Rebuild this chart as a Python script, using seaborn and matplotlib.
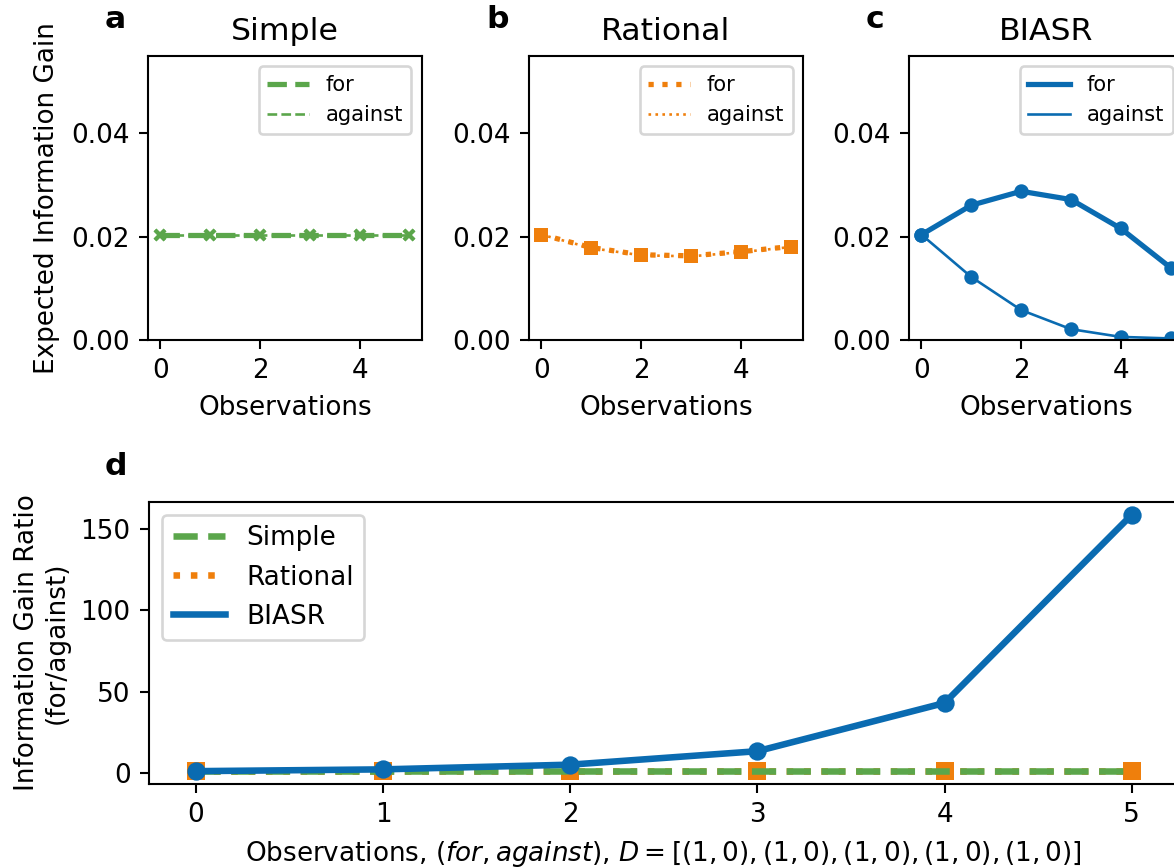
import numpy as np
import pandas as pd
import matplotlib
matplotlib.use("Agg")
import matplotlib.pyplot as plt
from matplotlib.lines import Line2D
import seaborn as sns

# ---- data ----
obs = [0, 1, 2, 3, 4, 5]
simple_for = [0.0204, 0.0204, 0.0204, 0.0204, 0.0204, 0.0204]
simple_against = [0.0204, 0.0204, 0.0204, 0.0204, 0.0204, 0.0204]
rational_for = [0.0204, 0.0179, 0.0165, 0.0163, 0.0171, 0.0181]
rational_against = [0.0204, 0.0178, 0.0164, 0.0162, 0.0170, 0.0180]
biasr_for = [0.0204, 0.0261, 0.0288, 0.0272, 0.0216, 0.0140]
biasr_against = [0.0204, 0.0122, 0.0058, 0.0021, 0.0006, 0.0003]
ratio_simple = [1.0, 1.0, 1.0, 1.0, 1.0, 1.0]
ratio_rational = [1.0, 1.0, 1.0, 1.0, 1.0, 1.0]
ratio_biasr = [1.0, 2.1, 5.0, 13.3, 43.0, 159.0]

models = ["Simple", "Rational", "BIASR"]
colors = {"Simple": "#5ba64b", "Rational": "#ef7f0c", "BIASR": "#0a6bb1"}
styles = {"Simple": "--", "Rational": ":", "BIASR": "-"}
markers = {"Simple": "x", "Rational": "s", "BIASR": "o"}
series = {
    "Simple": (simple_for, simple_against),
    "Rational": (rational_for, rational_against),
    "BIASR": (biasr_for, biasr_against),
}

DPI = 188.64
fig = plt.figure(figsize=(1174 / DPI, 868 / DPI), dpi=DPI)
plt.rcParams["font.family"] = ["DejaVu Sans"]

lefts = [0.126, 0.4506, 0.7743]
letters = ["a", "b", "c"]
for i, m in enumerate(models):
    ax = fig.add_axes([lefts[i], 0.6083, 0.2334, 0.3272])
    c = colors[m]
    f, a = series[m]
    df = pd.DataFrame({"obs": obs, "for": f, "against": a})
    sns.lineplot(data=df, x="obs", y="for", ax=ax, color=c, linestyle=styles[m],
                 lw=2, marker=markers[m], markersize=4, mec=c, mfc=c, mew=1.5)
    sns.lineplot(data=df, x="obs", y="against", ax=ax, color=c, linestyle=styles[m],
                 lw=1, marker=markers[m], markersize=4, mec=c, mfc=c, mew=1.5)
    ax.set_ylim(0, 0.055)
    ax.set_yticks([0, 0.02, 0.04])
    ax.set_yticklabels(["0.00", "0.02", "0.04"])
    ax.set_xticks([0, 2, 4])
    ax.set_xlabel("Observations", fontsize=10)
    ax.set_ylabel("Expected Information Gain" if i == 0 else "", fontsize=10)
    ax.set_title(m, fontsize=12)
    ax.tick_params(labelsize=10)
    handles = [Line2D([], [], color=c, linestyle=styles[m], lw=2),
               Line2D([], [], color=c, linestyle=styles[m], lw=1)]
    ax.legend(handles, ["for", "against"], loc="upper right", fontsize=8)
    fig.text(lefts[i] - 0.0366, 0.977, letters[i], fontsize=12, fontweight="bold",
             va="center", ha="left")

# ---- panel d ----
axd = fig.add_axes([0.1269, 0.0968, 0.877, 0.325])
ratios = {"Simple": ratio_simple, "Rational": ratio_rational, "BIASR": ratio_biasr}
dfd = pd.DataFrame({"obs": obs, **ratios})
sns.lineplot(data=dfd, x="obs", y="Rational", ax=axd, color=colors["Rational"],
             linestyle=":", lw=2.5, marker="s", markersize=7, mec=colors["Rational"],
             mew=0)
sns.lineplot(data=dfd, x="obs", y="Simple", ax=axd, color=colors["Simple"],
             linestyle="--", lw=2.5)
sns.lineplot(data=dfd, x="obs", y="BIASR", ax=axd, color=colors["BIASR"],
             linestyle="-", lw=2.5, marker="o", markersize=7, mec=colors["BIASR"],
             mew=0)
axd.set_xticks(obs)
axd.set_yticks([0, 50, 100, 150])
axd.tick_params(labelsize=10)
axd.set_ylabel("Information Gain Ratio\n(for/against)", fontsize=10)
axd.set_xlabel(r"Observations, $(\it{for}, \it{against})$, "
               r"$D = [(1, 0), (1, 0), (1, 0), (1, 0), (1, 0)]$", fontsize=10)
hd = [Line2D([], [], color=colors[m], linestyle=styles[m], lw=2.5) for m in models]
axd.legend(hd, models, loc="upper left", fontsize=10)
fig.text(0.0894, 0.462, "d", fontsize=12, fontweight="bold", va="center", ha="left")

fig.savefig("out.png", dpi=DPI)
